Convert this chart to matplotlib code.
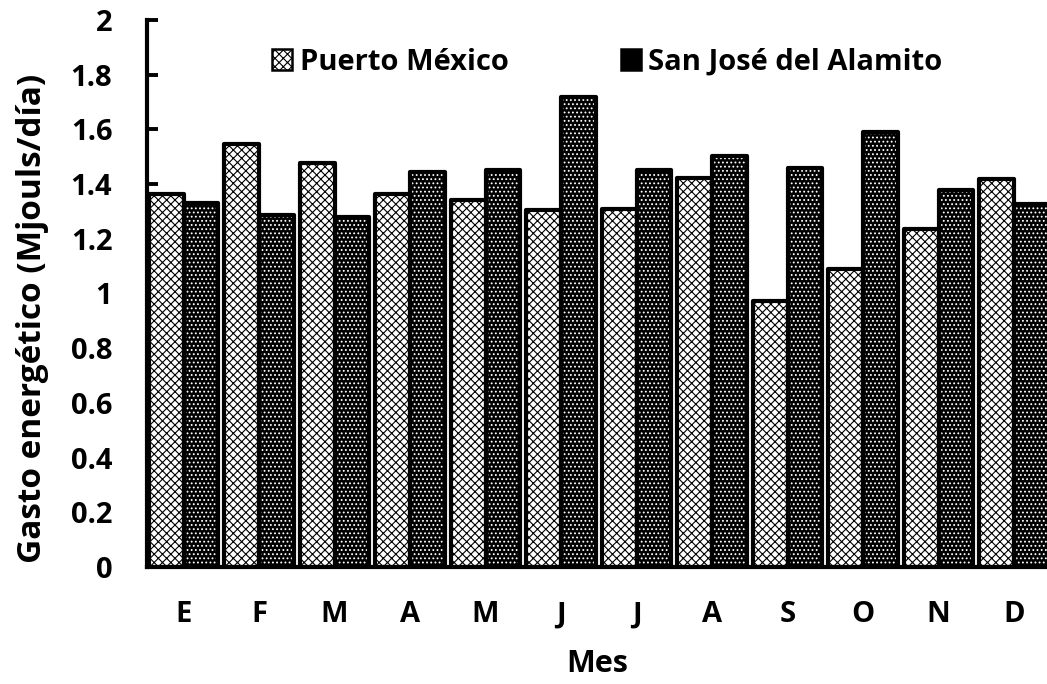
import matplotlib
matplotlib.use("Agg")
import matplotlib.pyplot as plt
import numpy as np
from matplotlib.patches import Patch

months = ["E", "F", "M", "A", "M", "J", "J", "A", "S", "O", "N", "D"]
puerto_mexico = [1.365, 1.545, 1.477, 1.363, 1.343, 1.306, 1.31, 1.423, 0.973, 1.09, 1.237, 1.418]
san_jose = [1.332, 1.286, 1.278, 1.446, 1.452, 1.72, 1.452, 1.503, 1.459, 1.592, 1.378, 1.328]
series_names = ["Puerto México", "San José del Alamito"]
yticks = [0, 0.2, 0.4, 0.6, 0.8, 1, 1.2, 1.4, 1.6, 1.8, 2]
ytick_labels = ["0", "0.2", "0.4", "0.6", "0.8", "1", "1.2", "1.4", "1.6", "1.8", "2"]

plt.rcParams['font.family'] = ['Open Sans', 'DejaVu Sans']
plt.rcParams['font.weight'] = 'bold'
plt.rcParams['hatch.linewidth'] = 0.8

W, H = 1047, 684
fig = plt.figure(figsize=(W / 100, H / 100), dpi=100)
left_px, right_px, top_px, bot_px = 147, 1047, 20, 567
ax = fig.add_axes([left_px / W, 1 - bot_px / H, (right_px - left_px) / W, (bot_px - top_px) / H])

x = np.arange(len(months))
bw = 0.457
styles = [
    dict(face="white", hatch="xxxx", hcol="black"),
    dict(face="black", hatch="....", hcol="white"),
]
for vals, off, st in [(puerto_mexico, -bw / 2, styles[0]), (san_jose, bw / 2, styles[1])]:
    ax.bar(x + off, vals, width=bw, facecolor=st["face"], edgecolor=st["hcol"],
           hatch=st["hatch"], linewidth=0, zorder=2)
    ax.bar(x + off, vals, width=bw, fill=False, edgecolor="black",
           linewidth=3.0, joinstyle="round", zorder=3)

spacing = 75.5
x0 = 183.5
ax.set_xlim(-(x0 - left_px) / spacing, (right_px - x0) / spacing)
ax.set_ylim(0, 2)
ax.set_yticks(yticks)
ax.set_yticklabels(ytick_labels)
ax.set_xticks(x)
ax.set_xticklabels(months)

for s in ["top", "right"]:
    ax.spines[s].set_visible(False)
for s in ["left", "bottom"]:
    ax.spines[s].set_linewidth(3.0)
ax.tick_params(axis="y", direction="in", length=8, width=2.8, labelsize=21, pad=25)
ax.tick_params(axis="x", length=0, labelsize=21, pad=24)
for lab in ax.get_xticklabels() + ax.get_yticklabels():
    lab.set_fontweight("bold")

ax.set_ylabel("Gasto energético (Mjouls/día)", fontsize=24, fontweight="bold", va="center")
ax.yaxis.set_label_coords((33 - left_px) / (right_px - left_px), (bot_px - 318) / (bot_px - top_px))
ax.set_xlabel("Mes", fontsize=22, fontweight="bold", va="center")
ax.xaxis.set_label_coords((597 - left_px) / (right_px - left_px), (bot_px - 664) / (bot_px - top_px))

handles = [
    Patch(facecolor=styles[0]["face"], edgecolor="black", hatch=styles[0]["hatch"], linewidth=1.8),
    Patch(facecolor=styles[1]["face"], edgecolor="black", hatch=styles[1]["hatch"], linewidth=1.8),
]
leg = fig.legend(handles, series_names, loc="center", bbox_to_anchor=(0.580, 1 - 62 / H),
                 ncol=2, frameon=False, prop=dict(size=21, weight="bold"),
                 handlelength=0.7, handleheight=0.7, handletextpad=0.25, columnspacing=3.85)

fig.savefig("out.png", dpi=100)
